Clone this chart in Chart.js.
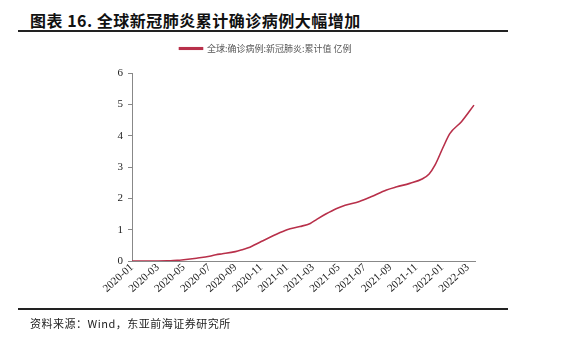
<!DOCTYPE html>
<html>
<head>
<meta charset="utf-8">
<script src="https://cdn.jsdelivr.net/npm/chart.js@4"></script>
<style>
  body { margin: 0; background: #fff; width: 585px; height: 342px; position: relative; overflow: hidden; }
  #title { position: absolute; left: 30px; top: 8px; font: bold 16px "Noto Sans CJK SC", sans-serif; color: #111; letter-spacing: 0.5px; }
  .rule { position: absolute; left: 18px; width: 490px; height: 2px; background: #222; }
  #source { position: absolute; left: 30px; top: 315px; font: 11px "Noto Sans CJK SC", serif; color: #222; letter-spacing: 0.5px; }
  #wrap { position: absolute; left: 0; top: 0; width: 585px; height: 342px; }
</style>
</head>
<body>
<div id="title">图表 16. 全球新冠肺炎累计确诊病例大幅增加</div>
<div class="rule" style="top:30px"></div>
<div id="wrap"><canvas id="caseChart"></canvas></div>
<div class="rule" style="top:308px"></div>
<div id="source">资料来源：Wind，东亚前海证券研究所</div>
<script>
// ========== DATA ==========
// x = months since 2020-01, y = 累计确诊 (亿例)
const months = [0, 1, 2, 2.7, 3, 3.5, 4, 5, 6, 6.5, 7, 8, 8.6, 9, 10, 11, 12, 13, 13.8, 14.3, 15, 15.8, 16.5, 17.6, 18.5, 19.7, 20.5, 21.5, 22.5, 23, 23.45, 24.1, 24.6, 25.5, 26.47];
const cases = [0, 0, 0, 0.003, 0.01, 0.02, 0.04, 0.09, 0.15, 0.2, 0.23, 0.3, 0.37, 0.42, 0.62, 0.82, 1.0, 1.1, 1.2, 1.33, 1.5, 1.67, 1.78, 1.9, 2.05, 2.27, 2.37, 2.48, 2.63, 2.78, 3.06, 3.65, 4.07, 4.45, 4.98];
const monthLabels = ['2020-01', '2020-03', '2020-05', '2020-07', '2020-09', '2020-11', '2021-01', '2021-03', '2021-05', '2021-07', '2021-09', '2021-11', '2022-01', '2022-03'];
const yTicks = [0, 1, 2, 3, 4, 5, 6];
const seriesName = '全球:确诊病例:新冠肺炎:累计值 亿例';

const lineColor = '#B8304A';

const ctx = document.getElementById('caseChart');
new Chart(ctx, {
  type: 'line',
  data: {
    datasets: [{
      label: seriesName,
      data: months.map((m, i) => ({ x: m, y: cases[i] })),
      borderColor: lineColor,
      backgroundColor: '#9E2A3A',
      borderWidth: 1.6,
      pointRadius: 0,
      tension: 0.4,
      cubicInterpolationMode: 'monotone',
      fill: false
    }]
  },
  options: {
    responsive: true,
    maintainAspectRatio: false,
    animation: false,
    layout: {
      padding: { left: 56, right: 110, top: 28, bottom: 0 }
    },
    plugins: {
      legend: {
        position: 'top',
        weight: 1600,
        labels: {
          boxWidth: 23,
          boxHeight: 1.5,
          padding: 16,
          color: '#555',
          font: { size: 9, family: '"Noto Sans CJK SC", sans-serif' }
        }
      },
      // empty spacer between legend and plot
      subtitle: {
        display: true,
        text: '',
        weight: 1000,
        font: { size: 1 },
        padding: { top: 0, bottom: 9 }
      },
      tooltip: { enabled: false }
    },
    scales: {
      x: {
        type: 'linear',
        min: 0,
        max: 26.55,
        afterFit: function(scale) { scale.height = 81; },
        ticks: {
          stepSize: 2,
          includeBounds: false,
          autoSkip: false,
          maxRotation: 42,
          minRotation: 42,
          padding: 0,
          color: '#222',
          font: { size: 11, family: '"Liberation Serif", serif' },
          callback: function(value) {
            const idx = value / 2;
            return Number.isInteger(idx) ? monthLabels[idx] : '';
          }
        },
        grid: { display: true, drawOnChartArea: false, drawTicks: false },
        border: { color: '#888', width: 1 }
      },
      y: {
        min: yTicks[0],
        max: yTicks[yTicks.length - 1],
        afterFit: function(scale) { scale.width = 76; },
        ticks: {
          stepSize: 1,
          padding: 5,
          color: '#222',
          font: { size: 11, family: '"Liberation Serif", serif' }
        },
        grid: { drawOnChartArea: false, drawTicks: true, tickLength: 4, color: '#888' },
        border: { color: '#888', width: 1 }
      }
    }
  }
});
</script>
</body>
</html>
